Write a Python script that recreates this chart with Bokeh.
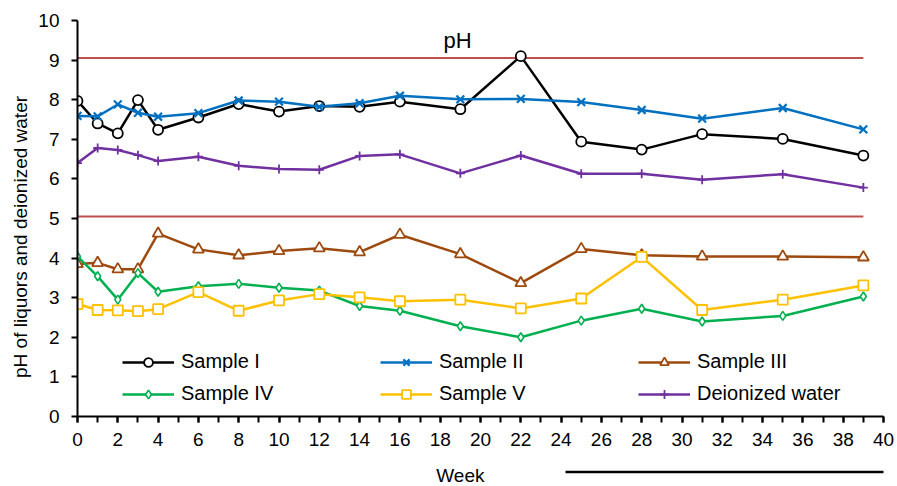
from bokeh.plotting import figure
from bokeh.models import Legend, LegendItem, Label, Range1d, FixedTicker
from bokeh.layouts import column
from bokeh.embed import file_html
from bokeh.resources import INLINE

weeks = [0, 1, 2, 3, 4, 6, 8, 10, 12, 14, 16, 19, 22, 25, 28, 31, 35, 39]
sample_i = [7.97, 7.40, 7.15, 7.99, 7.24, 7.55, 7.89, 7.70, 7.84, 7.82, 7.95, 7.76, 9.10, 6.94, 6.74, 7.13, 7.01, 6.59]
sample_ii = [7.59, 7.58, 7.88, 7.67, 7.57, 7.66, 7.98, 7.95, 7.82, 7.91, 8.10, 8.01, 8.02, 7.94, 7.74, 7.52, 7.79, 7.25]
sample_iii = [3.85, 3.88, 3.72, 3.72, 4.62, 4.22, 4.07, 4.18, 4.25, 4.15, 4.59, 4.10, 3.37, 4.23, 4.07, 4.04, 4.04, 4.02]
sample_iv = [4.04, 3.54, 2.95, 3.62, 3.15, 3.29, 3.35, 3.25, 3.18, 2.79, 2.67, 2.28, 2.00, 2.42, 2.72, 2.40, 2.54, 3.03]
sample_v = [2.84, 2.69, 2.68, 2.66, 2.71, 3.14, 2.67, 2.93, 3.09, 3.01, 2.91, 2.95, 2.73, 2.98, 4.03, 2.69, 2.95, 3.31]
deionized = [6.40, 6.78, 6.73, 6.60, 6.45, 6.56, 6.33, 6.25, 6.23, 6.58, 6.62, 6.14, 6.59, 6.13, 6.13, 5.98, 6.12, 5.78]

limit_weeks = [0, 39]
upper_limit = [9.05, 9.05]
lower_limit = [5.05, 5.05]

x_ticks = list(range(0, 41, 2))
x_minor = list(range(0, 41))
y_ticks = list(range(0, 11))

FONT = "Liberation Sans"

xr = Range1d(0, 40)
p = figure(width=897, height=458, x_range=xr, y_range=Range1d(0, 10),
           output_backend="svg", toolbar_location=None,
           min_border_left=77, min_border_right=14, min_border_top=20, min_border_bottom=42)
p.outline_line_color = None
p.xgrid.visible = False
p.ygrid.visible = False

# limit lines
p.line(limit_weeks, upper_limit, line_color="#C0504D", line_width=2)
p.line(limit_weeks, lower_limit, line_color="#C0504D", line_width=2)

series = [
    ("Sample I", sample_i, "#000000", "circle", 10, 1.8),
    ("Sample II", sample_ii, "#0070C0", "x", 11, 2.2),
    ("Sample III", sample_iii, "#9E4A0E", "triangle", 11, 1.8),
    ("Sample IV", sample_iv, "#00B050", "diamond", 9, 1.6),
    ("Sample V", sample_v, "#FFC000", "square", 10, 1.8),
    ("Deionized water", deionized, "#7030A0", "cross", 9, 1.8),
]

items = []
for name, vals, color, marker, size, lw in series:
    ln = p.line(weeks, vals, line_color=color, line_width=2.5)
    sc = p.scatter(weeks, vals, marker=marker, size=size, line_color=color,
                   fill_color="white", line_width=lw)
    items.append(LegendItem(label=name, renderers=[ln, sc]))

legend = Legend(items=items, ncols=3, orientation="horizontal", location=(45, 11),
                label_width=190, label_height=22, glyph_width=52, glyph_height=22,
                label_standoff=7, spacing=9, padding=0, margin=0,
                border_line_color=None, background_fill_alpha=0,
                label_text_font=FONT, label_text_font_size="20px", label_text_color="black")
p.add_layout(legend)

# axes
xa = p.xaxis[0]
xa.ticker = FixedTicker(ticks=x_ticks, minor_ticks=x_minor)
xa.axis_line_width = 2
xa.major_tick_line_width = 2
xa.minor_tick_line_width = 2
xa.major_tick_in = 0
xa.major_tick_out = 6
xa.minor_tick_in = 0
xa.minor_tick_out = 6
xa.major_label_standoff = 10
xa.major_label_text_font = FONT
xa.major_label_text_font_size = "19px"
xa.major_label_text_color = "black"

ya = p.yaxis[0]
ya.ticker = FixedTicker(ticks=y_ticks, minor_ticks=[])
ya.axis_line_width = 2
ya.major_tick_line_width = 2
ya.major_tick_in = 0
ya.major_tick_out = 6
ya.minor_tick_out = 0
ya.minor_tick_in = 0
ya.major_label_standoff = 12
ya.major_label_text_font = FONT
ya.major_label_text_font_size = "19px"
ya.major_label_text_color = "black"
# trailing no-break spaces nudge the centred title slightly downward, as in the original
ya.axis_label = "pH of liquors and deionized water" + "\u00a0" * 7
ya.axis_label_standoff = 4
ya.axis_label_text_font = FONT
ya.axis_label_text_font_size = "19px"
ya.axis_label_text_font_style = "normal"
ya.axis_label_text_color = "black"

p.add_layout(Label(x=18.86, y=9.50, text="pH", text_align="center", text_baseline="alphabetic",
                   text_font=FONT, text_font_size="22px", text_color="black"))

# bottom strip (shares the week scale): x-axis title and the rule under the chart
q = figure(width=897, height=28, x_range=xr, y_range=Range1d(28, 0),
           output_backend="svg", toolbar_location=None,
           x_axis_location=None, y_axis_location=None,
           min_border_left=77, min_border_right=14, min_border_top=0, min_border_bottom=0)
q.outline_line_color = None
q.xgrid.visible = False
q.ygrid.visible = False
q.add_layout(Label(x=19.0, y=16.5, text="Week", text_align="center", text_baseline="alphabetic",
                   text_font=FONT, text_font_size="19px", text_color="black"))
q.line([24.22, 40.15], [13.5, 13.5], line_color="black", line_width=2.5)

layout = column(p, q, spacing=0)
open("out.html", "w").write(file_html(layout, INLINE))
